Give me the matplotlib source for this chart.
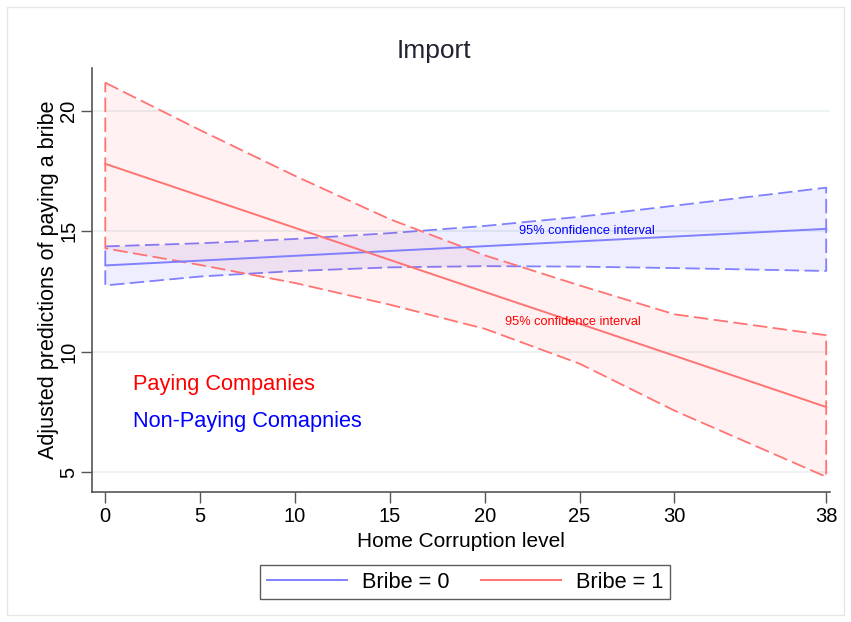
import numpy as np
import matplotlib.pyplot as plt
from matplotlib.patches import Rectangle

plt.rcParams['font.family'] = ['Liberation Sans', 'DejaVu Sans']

# valeurs (margins aux points 0,5,...,30,38)
corruption = [0, 5, 10, 15, 20, 25, 30, 38]

bribe0_pred = [13.58, 13.78, 13.98, 14.18, 14.38, 14.58, 14.78, 15.10]
bribe0_hi = [14.37, 14.50, 14.68, 14.92, 15.22, 15.60, 16.06, 16.81]
bribe0_lo = [12.75, 13.12, 13.35, 13.50, 13.55, 13.53, 13.47, 13.35]

bribe1_pred = [17.80, 16.47, 15.14, 13.81, 12.48, 11.16, 9.83, 7.70]
bribe1_hi = [21.17, 19.20, 17.30, 15.50, 14.00, 12.75, 11.55, 10.68]
bribe1_lo = [14.29, 13.60, 12.85, 11.95, 10.95, 9.50, 7.55, 4.80]

xticks = [0, 5, 10, 15, 20, 25, 30, 38]
yticks = [5, 10, 15, 20]

blue = '#8080FF'
red = '#FF7373'

fig = plt.figure(figsize=(8.51, 6.22), dpi=100)
fig.patch.set_facecolor('white')
ax = fig.add_axes([92/851, 1-492/622, 738/851, 424/622])

x = np.array(corruption)

# bande de confiance : remplissage + contour en tirets
def bande(ax, lo, hi, col, fill, a, z):
    lo = np.array(lo); hi = np.array(hi)
    ax.fill_between(x, lo, hi, color=fill, alpha=a, lw=0, zorder=z)
    ax.plot(np.r_[x, x[::-1], x[0]], np.r_[hi, lo[::-1], hi[0]],
            color=col, lw=1.3, dashes=(8, 3), zorder=z + 1)

bande(ax, bribe0_lo, bribe0_hi, blue, '#0000FF', 0.065, 2)
bande(ax, bribe1_lo, bribe1_hi, red, '#FF0000', 0.055, 4)

l0, = ax.plot(x, bribe0_pred, color=blue, lw=1.4, zorder=6, label='Bribe = 0')
l1, = ax.plot(x, bribe1_pred, color=red, lw=1.4, zorder=6, label='Bribe = 1')

# grille
for yv in yticks:
    ax.axhline(yv, color='#EAF0F2', lw=1.2, zorder=1)

ax.set_xlim(-0.7, 38.2)
ax.set_ylim(4.17, 21.78)
ax.set_xticks(xticks)
ax.set_yticks(yticks)
ax.tick_params(axis='both', direction='out', length=8, width=1, color='#555555',
               labelsize=14.5)
ax.tick_params(axis='x', pad=3)
ax.tick_params(axis='y', pad=2)
for lab in ax.get_yticklabels():
    lab.set_rotation(90)
    lab.set_va('center')
for s in ['top', 'right']:
    ax.spines[s].set_visible(False)
for s in ['left', 'bottom']:
    ax.spines[s].set_color('#555555')
    ax.spines[s].set_linewidth(1.2)

ax.set_xlabel('Home Corruption level', fontsize=15, labelpad=4)
ax.set_ylabel('Adjusted predictions of paying a bribe', fontsize=15.5, labelpad=0)
fig.text(434/851, 1-58/622, 'Import', fontsize=19, color='#222233',
         ha='center', va='baseline')

ax.text(25.36, 15.03, '95% confidence interval', color='blue', fontsize=9.2,
        ha='center', va='center', zorder=7)
ax.text(24.67, 11.22, '95% confidence interval', color='red', fontsize=9.2,
        ha='center', va='center', zorder=7)
ax.text(1.48, 8.65, 'Paying Companies', color='red', fontsize=15.7, va='center')
ax.text(1.48, 7.08, 'Non-Paying Comapnies', color='blue', fontsize=15.7, va='center')

leg = fig.legend(handles=[l0, l1], loc='center', bbox_to_anchor=(465/851, 1-582/622),
                 ncol=2, fontsize=15.7, frameon=True, fancybox=False,
                 handlelength=3.67, handletextpad=0.69, columnspacing=1.42,
                 borderpad=0.3, borderaxespad=0)
leg.get_frame().set_edgecolor('#333333')
leg.get_frame().set_linewidth(1.0)

fig.patches.append(Rectangle((7/851, 7/622), 1-14/851, 1-14/622, transform=fig.transFigure,
                             fill=False, edgecolor='#E4E8EA', lw=1))

fig.savefig('out.png', dpi=100, facecolor='white')
